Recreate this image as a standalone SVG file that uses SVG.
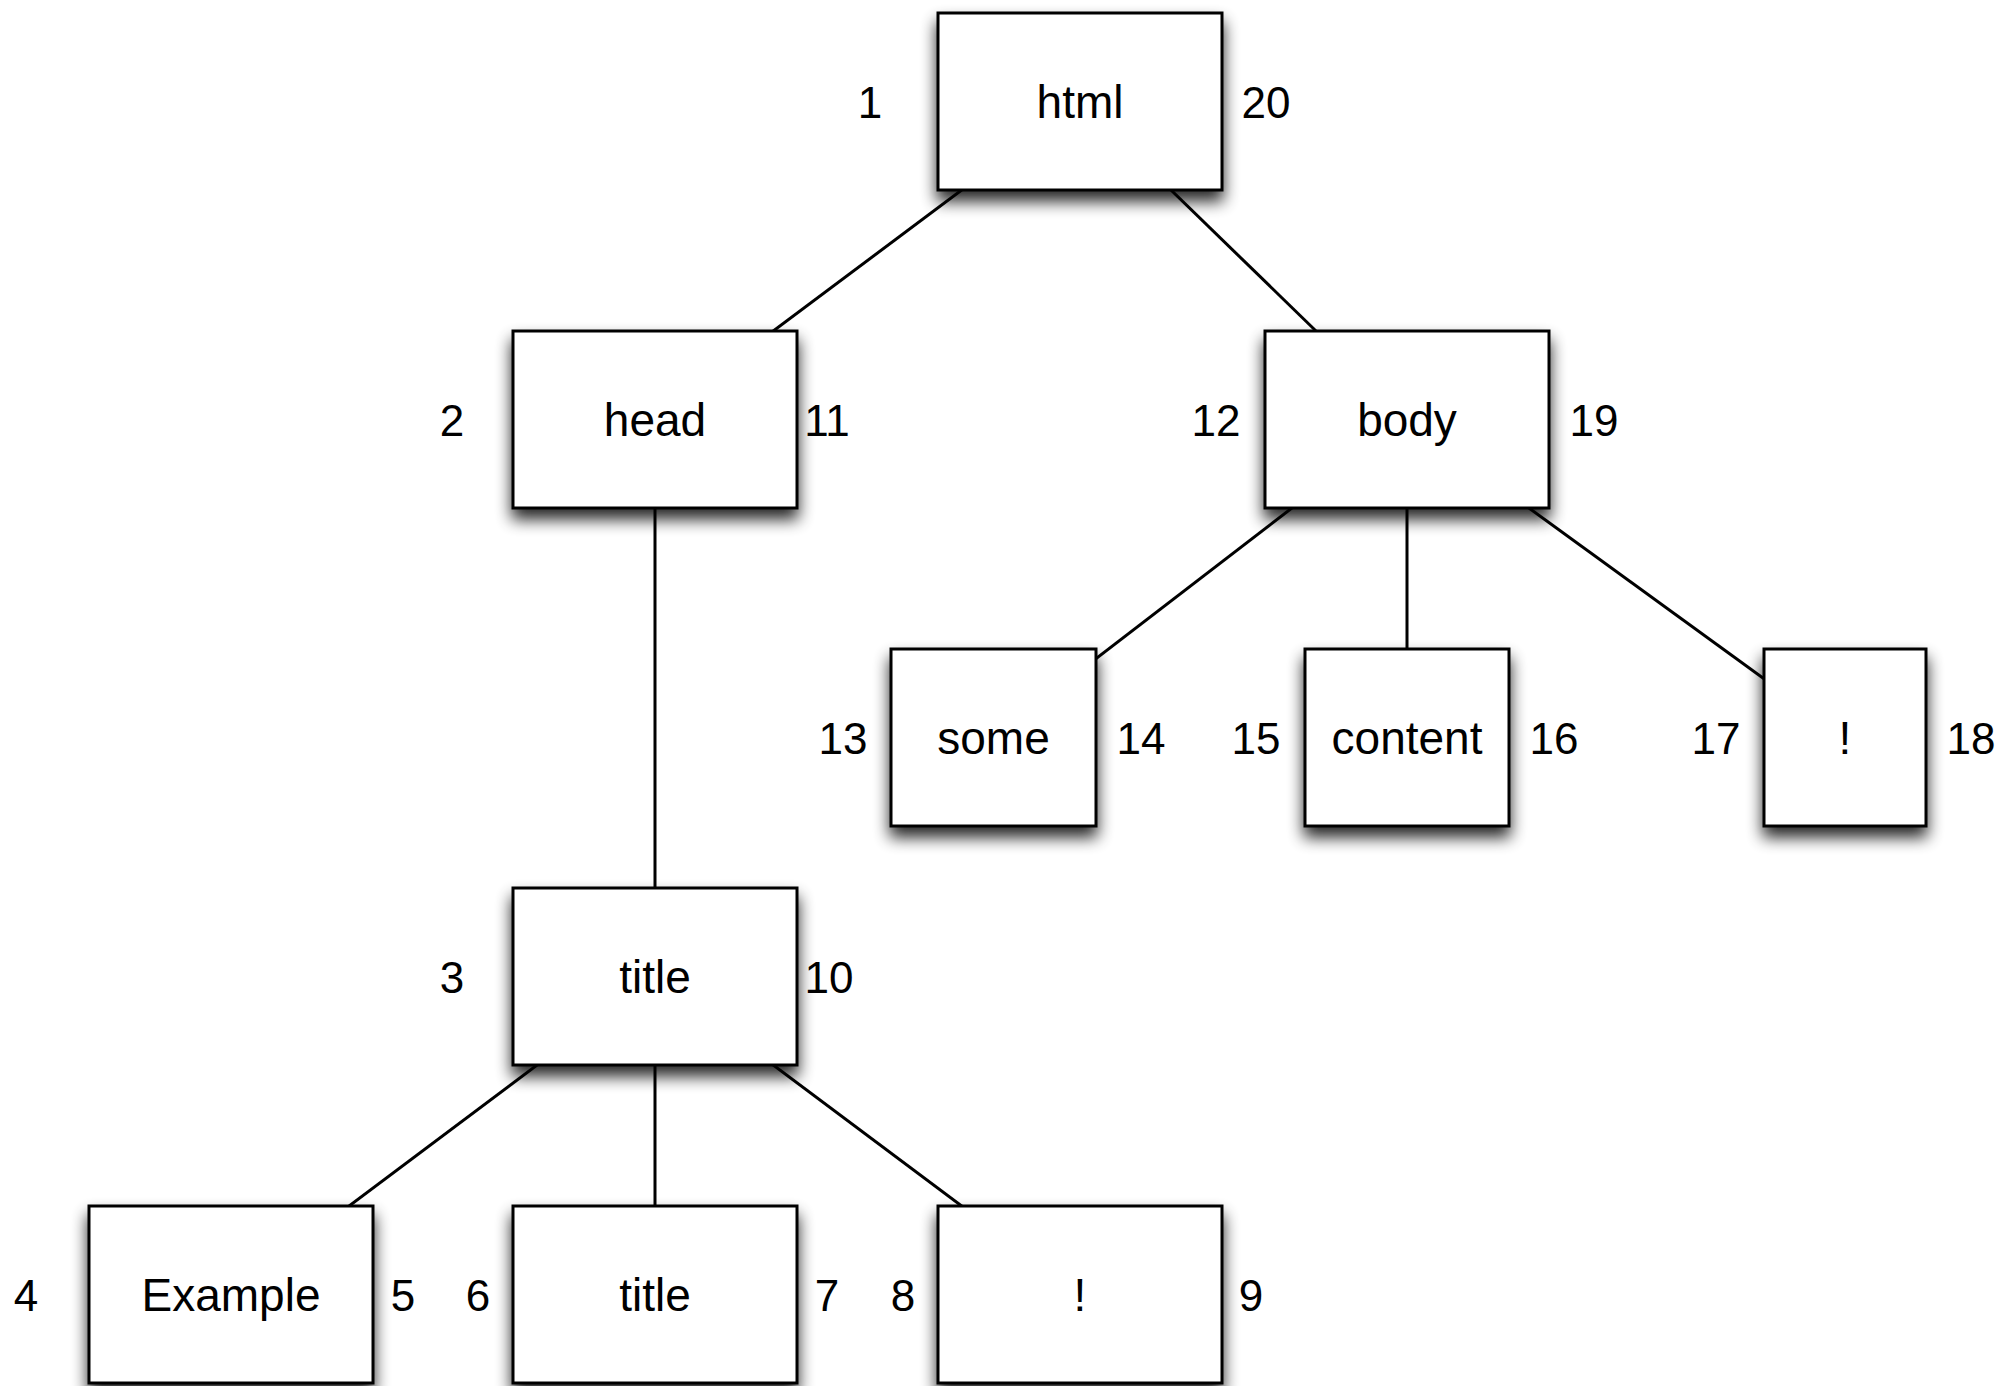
<svg xmlns="http://www.w3.org/2000/svg" width="2004" height="1386" viewBox="0 0 2004 1386">
<style>
.box{fill:#fff;stroke:#000;stroke-width:3}
.lbl{font-family:"Liberation Sans",Arial,Helvetica,sans-serif;font-size:46px;fill:#000;text-anchor:middle}
.num{font-family:"Liberation Sans",Arial,Helvetica,sans-serif;font-size:44px;fill:#000;text-anchor:middle}
.edge{stroke:#000;stroke-width:3;fill:none}
</style>
<defs>
<filter id="sh" x="-25%" y="-25%" width="150%" height="160%">
<feGaussianBlur in="SourceAlpha" stdDeviation="8"/>
<feOffset dx="0" dy="10" result="b"/>
<feComponentTransfer><feFuncA type="linear" slope="0.85"/></feComponentTransfer>
<feMerge><feMergeNode/><feMergeNode in="SourceGraphic"/></feMerge>
</filter>
</defs>
<rect width="2004" height="1386" fill="#fff"/>
<g id="connectors">
<line class="edge" x1="1080" y1="101.5" x2="655" y2="419.5"/>
<line class="edge" x1="1080" y1="101.5" x2="1407" y2="419.5"/>
<line class="edge" x1="655" y1="419.5" x2="655" y2="976.5"/>
<line class="edge" x1="1407" y1="419.5" x2="993.5" y2="737.5"/>
<line class="edge" x1="1407" y1="419.5" x2="1407" y2="737.5"/>
<line class="edge" x1="1407" y1="419.5" x2="1845" y2="737.5"/>
<line class="edge" x1="655" y1="976.5" x2="231" y2="1294.5"/>
<line class="edge" x1="655" y1="976.5" x2="655" y2="1294.5"/>
<line class="edge" x1="655" y1="976.5" x2="1080" y2="1294.5"/>
</g>
<g id="node-html"><rect class="box" filter="url(#sh)" x="938" y="13" width="284" height="177"/><text class="lbl" x="1080" y="118">html</text><text class="num" x="870" y="118">1</text><text class="num" x="1266" y="118">20</text></g>
<g id="node-head"><rect class="box" filter="url(#sh)" x="513" y="331" width="284" height="177"/><text class="lbl" x="655" y="436">head</text><text class="num" x="452" y="436">2</text><text class="num" x="827" y="436">11</text></g>
<g id="node-body"><rect class="box" filter="url(#sh)" x="1265" y="331" width="284" height="177"/><text class="lbl" x="1407" y="436">body</text><text class="num" x="1216" y="436">12</text><text class="num" x="1594" y="436">19</text></g>
<g id="node-some"><rect class="box" filter="url(#sh)" x="891" y="649" width="205" height="177"/><text class="lbl" x="993.5" y="754">some</text><text class="num" x="843" y="754">13</text><text class="num" x="1141" y="754">14</text></g>
<g id="node-content"><rect class="box" filter="url(#sh)" x="1305" y="649" width="204" height="177"/><text class="lbl" x="1407" y="754">content</text><text class="num" x="1256" y="754">15</text><text class="num" x="1554" y="754">16</text></g>
<g id="node-excl1"><rect class="box" filter="url(#sh)" x="1764" y="649" width="162" height="177"/><text class="lbl" x="1845" y="754">!</text><text class="num" x="1716" y="754">17</text><text class="num" x="1971" y="754">18</text></g>
<g id="node-title"><rect class="box" filter="url(#sh)" x="513" y="888" width="284" height="177"/><text class="lbl" x="655" y="993">title</text><text class="num" x="452" y="993">3</text><text class="num" x="829" y="993">10</text></g>
<g id="node-example"><rect class="box" filter="url(#sh)" x="89" y="1206" width="284" height="177"/><text class="lbl" x="231" y="1311">Example</text><text class="num" x="26" y="1311">4</text><text class="num" x="403" y="1311">5</text></g>
<g id="node-title2"><rect class="box" filter="url(#sh)" x="513" y="1206" width="284" height="177"/><text class="lbl" x="655" y="1311">title</text><text class="num" x="478" y="1311">6</text><text class="num" x="827" y="1311">7</text></g>
<g id="node-excl2"><rect class="box" filter="url(#sh)" x="938" y="1206" width="284" height="177"/><text class="lbl" x="1080" y="1311">!</text><text class="num" x="903" y="1311">8</text><text class="num" x="1251" y="1311">9</text></g>
</svg>
